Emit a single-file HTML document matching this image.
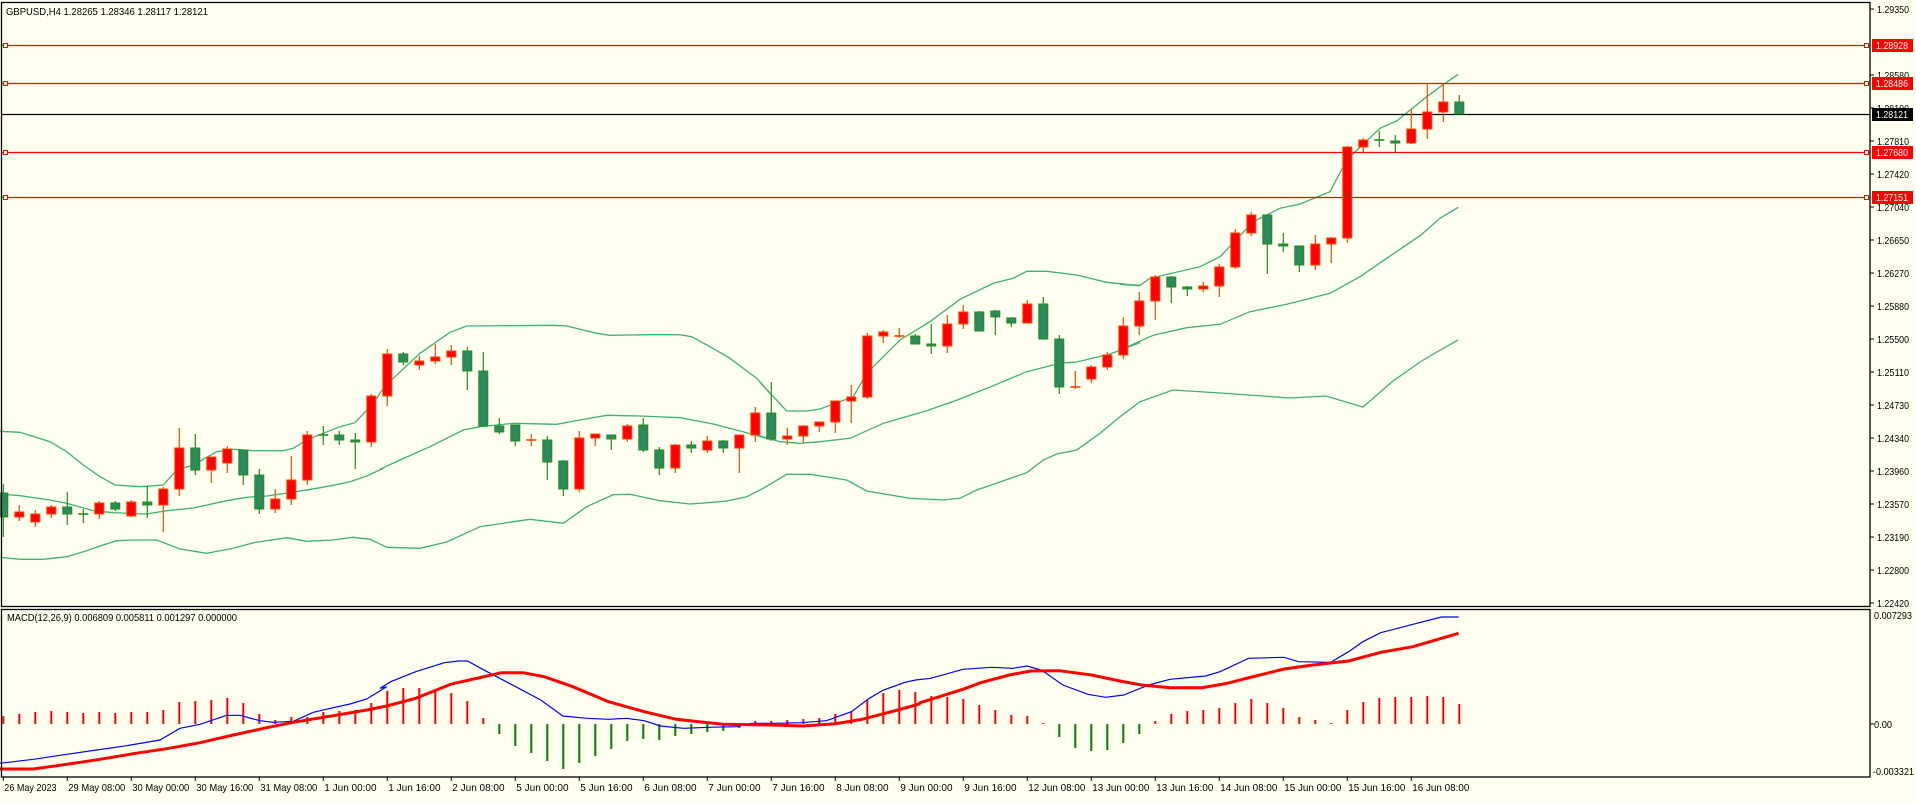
<!DOCTYPE html>
<html><head><meta charset="utf-8"><style>
html,body{margin:0;padding:0;background:#FFFFF0;}
body{width:1916px;height:798px;overflow:hidden;position:relative;}
svg text{font-family:"Liberation Sans",sans-serif;font-size:10.5px;}
</style></head><body>
<svg id="c" width="1916" height="798" xmlns="http://www.w3.org/2000/svg">
<rect width="1916" height="798" fill="#FFFFF0"/>
</svg>
<script>
var s=document.getElementById('c'),out='';
function X(i){return 3.3+16*i;}
var C=[
['g',493,517,484,537],['r',512,517,505,521],['r',514,522,510,527],['r',507,514,505,518],['g',507,514,492,525],['g',514,514,509,523],['r',503,514,501,519],['g',503,509,501,511],['r',502,516,500,517],['g',502,505,486,518],
['r',489,505,487,532],['r',448,489,428,496],['g',448,470,434,475],['r',457,470,457,483],['r',449,463,446,473],['g',450,475,450,485],['g',475,509,469,514],['r',499,509,489,513],['r',480,499,456,505],['r',435,480,431,485],
['g',435,435,426,445],['g',435,440,431,445],['g',440,442,433,469],['r',396,442,394,447],['r',354,396,349,406],['g',354,362,352,365],['r',361,365,356,370],['r',357,361,344,364],['r',351,357,345,365],['g',351,371,347,390],
['g',371,426,352,426],['g',426,432,418,434],['g',425,441,425,446],['r',440,441,434,446],['g',440,462,436,480],['g',461,489,460,496],['r',438,489,431,492],['r',434,438,434,446],['g',435,439,435,450],['r',426,439,424,442],
['g',425,450,418,452],['g',450,468,447,475],['r',445,468,444,473],['g',445,448,441,453],['r',441,450,436,453],['g',441,448,440,453],['r',435,448,435,473],['r',413,435,407,442],['g',413,439,382,441],['r',436,439,428,445],
['r',426,436,425,443],['r',422,426,422,432],['r',401,422,401,433],['r',397,401,385,423],['r',336,397,333,399],['r',332,336,330,343],['r',336,336,328,338],['g',336,344,334,344],['g',344,346,324,354],['r',324,346,315,353],
['r',312,324,305,329],['g',312,331,311,331],['g',311,317,310,335],['g',318,323,317,327],['r',304,323,300,323],['g',304,339,297,339],['g',339,387,335,394],['r',387,387,371,389],['r',367,379,365,383],['r',355,367,352,370],
['r',326,355,317,359],['r',301,326,292,335],['r',277,301,275,320],['g',277,287,276,303],['g',287,289,286,296],['r',286,289,282,292],['r',267,286,264,297],['r',233,267,229,269],['r',215,233,212,236],['g',215,244,215,274],
['g',244,246,233,252],['g',246,265,246,272],['r',244,265,235,270],['r',238,244,237,263],['r',147,238,146,243],['r',140,147,138,153],['g',140,141,131,147],['g',141,143,135,153],['r',129,143,109,144],['r',112,129,83,139],
['r',102,112,84,122],['g',102,114,95,114]];
function pts(a,ox,oy,sx,sy){var r=[];for(var i=0;i<a.length;i+=2)r.push((ox+a[i]/sx).toFixed(1)+','+(oy+a[i+1]/sy).toFixed(1));return r.join(' ');}
var up=pts([0,394,60,397,150,425,200,455,250,495,300,530,345,555,420,560,490,555,530,510,580,495,650,455,700,448,760,452,850,452,880,445,920,420,970,400,1020,380,1065,368,1120,310,1150,265],0,300,3,3)+' '+
pts([40,235,120,160,210,97,260,78,520,76,560,78,650,100,690,106,810,104,900,104,935,110,990,140,1050,175,1130,235,1170,280],380,300,3,3)+' '+
pts([0,547,80,633,140,633,180,627,280,590,320,520,420,420,510,365,600,298,700,250,760,235,800,214,860,214,950,225,1040,247,1140,257],760,200,3,3)+' '+
pts([0,673,60,676,90,655,240,620,300,590,400,485,480,445,540,432,630,395,680,300,780,205,830,183,920,110,975,70,1015,43],1120,60,3,3);
var mid=pts([0,582,60,587,150,600,200,610,280,632,340,638,440,642,500,632,580,624,680,602,740,592,800,588,870,578,950,565,1000,556,1050,545,1100,528,1150,505],0,300,3,3)+' '+
pts([0,508,60,480,150,440,250,390,300,380,400,370,530,373,600,360,680,346,780,348,900,353,1000,372,1100,398,1170,418],380,300,3,3)+' '+
pts([0,708,60,725,120,730,180,725,270,715,370,670,500,632,600,597,700,557,800,515,900,490,950,486,1050,462,1140,428],760,200,3,3)+' '+
pts([0,870,100,826,200,803,300,793,390,755,500,733,630,700,720,650,800,595,900,527,960,475,1015,442],1120,60,3,3);
var lo=pts([0,772,60,778,130,778,200,770,260,752,300,738,350,722,400,720,470,720,540,747,620,760,700,745,760,728,860,713,920,724,1000,720,1060,712,1110,718,1160,742],0,300,3,3)+' '+
pts([20,742,120,745,200,726,300,680,400,665,450,658,550,670,620,620,700,584,750,583,840,602,930,612,1000,607,1040,603,1100,590,1150,565],380,300,3,3)+' '+
pts([80,823,150,823,260,840,320,873,450,895,550,900,600,895,650,870,800,818,850,780,890,762,950,750,1020,700,1080,650,1140,605],760,200,3,3)+' 1173,390 1220,393 1290,398 1326,396 1363,407 1393,381 1420,362 1437,352 1458,340';
out+='<polyline points="'+up+'" fill="none" stroke="#3CB371" stroke-width="1.3"/>';
out+='<polyline points="'+mid+'" fill="none" stroke="#3CB371" stroke-width="1.3"/>';
out+='<polyline points="'+lo+'" fill="none" stroke="#3CB371" stroke-width="1.3"/>';
[[45,'1.28928'],[83,'1.28486'],[152,'1.27680'],[197,'1.27151']].forEach(function(h){
out+='<line x1="2" x2="1870" y1="'+h[0]+'.5" y2="'+h[0]+'.5" stroke="#FF0000" stroke-width="1.2"/>';
out+='<rect x="3.5" y="'+(h[0]-2)+'.5" width="4" height="4" fill="#FFFFF0" stroke="#FF0000"/>';
out+='<rect x="1864.5" y="'+(h[0]-2)+'.5" width="4" height="4" fill="#FFFFF0" stroke="#FF0000"/>';
});
out+='<line x1="2" x2="1870" y1="114.5" y2="114.5" stroke="#000" stroke-width="1.2"/>';
C.forEach(function(c,i){var x=X(i),g=c[0]=='g';
var wc=g?'#228B22':'#FF4500';
out+='<line x1="'+x+'" x2="'+x+'" y1="'+c[3]+'" y2="'+c[4]+'" stroke="'+wc+'" stroke-width="1.2"/>';
var h=Math.max(c[2]-c[1],1);
if(c[2]-c[1]<=1){out+='<line x1="'+(x-5)+'" x2="'+(x+5)+'" y1="'+c[1]+'" y2="'+c[1]+'" stroke="'+wc+'" stroke-width="1.6"/>';}
else out+='<rect x="'+(x-4.5)+'" y="'+c[1]+'" width="9" height="'+h+'" fill="'+(g?'#2E8B57':'#FF0000')+'" stroke="'+wc+'" stroke-width="1"/>';
});
var H=[716,714,712,711,712,713,712,713,712,712,710,702,701,700,698,703,714,720,717,717,712,711,710,703,691,688,688,691,693,701,718,734,746,753,761,769,763,756,749,741,739,740,736,734,732,731,728,721,721,720,719,718,714,711,700,693,690,692,696,697,699,705,710,715,716,723,737,748,751,750,743,734,721,714,711,710,708,703,699,703,708,717,720,723,710,702,698,697,697,696,697,704];
H.forEach(function(v,i){var x=X(i);
if(v<=724)out+='<rect x="'+(x-1)+'" y="'+v+'" width="2" height="'+(724-v)+'" fill="#FF0000"/>';
else out+='<rect x="'+(x-1)+'" y="724" width="2" height="'+(v-724)+'" fill="#008000"/>';});
var bl=pts([0,490,100,478,200,463,290,450,380,437,480,420,540,385,600,373,680,346,720,346,780,362,820,367,880,364,940,337,1000,323,1050,312,1100,297,1160,260],0,600,3,3)+' '+
pts([0,175,30,155,100,125,180,98,220,93,245,93,300,125,380,170,450,210,512,258,580,265,640,268,690,265,740,272,785,288,850,295,920,292,1000,290,1040,280,1100,280,1180,278,1250,272,1320,245,1370,205,1410,180,1470,157,1500,150],380,630,2.8,3)+' '+
pts([30,235,120,208,200,202,260,205,300,198,340,210,400,255,470,283,520,292,570,285,640,255,700,238,800,228,840,215,920,175,1020,172,1060,185,1150,187,1200,155,1240,125,1290,98,1380,73,1460,51,1508,51],920,600,2.8,3);
var rd=pts([0,507,100,507,200,493,300,478,400,461,500,446,600,428,700,405,800,383,880,367,1000,347,1100,330,1160,318],0,600,3,3)+' '+
pts([100,205,200,162,300,138,340,128,400,128,460,140,540,170,640,215,740,245,830,268,900,276,960,283,1095,285,1185,288,1275,281,1350,268,1450,240,1510,222],380,630,2.8,3)+' '+
pts([0,308,120,268,170,248,250,225,310,213,390,212,480,225,560,243,620,255,700,263,790,263,860,250,940,228,1020,207,1100,195,1200,183,1290,157,1380,140,1460,115,1508,100],920,600,2.8,3);
out+='<polyline points="'+bl+'" fill="none" stroke="#0000FF" stroke-width="1.2"/>';
out+='<polyline points="'+rd+'" fill="none" stroke="#FF0000" stroke-width="3"/>';
out+='<rect x="1.5" y="2.5" width="1868.5" height="604" fill="none" stroke="#000" stroke-width="1.3"/>';
out+='<rect x="1.5" y="609.5" width="1868.5" height="167.5" fill="none" stroke="#000" stroke-width="1.3"/>';
function T(x,y,t,w,fill){return '<text x="'+x+'" y="'+y+'" textLength="'+w+'" lengthAdjust="spacingAndGlyphs"'+(fill?' fill="'+fill+'"':'')+'>'+t+'</text>';}
var P=['1.29350','1.28970','1.28580','1.28190','1.27810','1.27420','1.27040','1.26650','1.26270','1.25880','1.25500','1.25110','1.24730','1.24340','1.23960','1.23570','1.23190','1.22800','1.22420'];
for(var k=0;k<19;k++){var y=9+k*33;
if(k==1)continue;
out+='<line x1="1870" x2="1874" y1="'+y+'" y2="'+y+'" stroke="#000"/>';
out+=T(1877,y+4,P[k],32);}
[[45,'1.28928','#FF0000'],[83,'1.28486','#FF0000'],[114,'1.28121','#000'],[152,'1.27680','#FF0000'],[197,'1.27151','#FF0000']].forEach(function(h){
out+='<rect x="1872" y="'+(h[0]-6)+'" width="41" height="13" fill="'+h[2]+'"/>';
out+=T(1876,h[0]+4,h[1],32,'#fff');});
out+=T(1874,619,'0.007293',38)+'<line x1="1870" x2="1874" y1="724" y2="724" stroke="#000"/>'+T(1874,728,'0.00',18)+T(1873,775,'-0.003321',41);
var L=["26 May 2023","29 May 08:00","30 May 00:00","30 May 16:00","31 May 08:00","1 Jun 00:00","1 Jun 16:00","2 Jun 08:00","5 Jun 00:00","5 Jun 16:00","6 Jun 08:00","7 Jun 00:00","7 Jun 16:00","8 Jun 08:00","9 Jun 00:00","9 Jun 16:00","12 Jun 08:00","13 Jun 00:00","13 Jun 16:00","14 Jun 08:00","15 Jun 00:00","15 Jun 16:00","16 Jun 08:00"];
L.forEach(function(t,j){var x=X(j*4);
out+='<line x1="'+x+'" x2="'+x+'" y1="777" y2="781" stroke="#000"/>';
out+=T(x+1,791,t,t.length*4.75);});
out+=T(6,15,'GBPUSD,H4  1.28265 1.28346 1.28117 1.28121',202);
out+=T(7,621,'MACD(12,26,9) 0.006809 0.005811 0.001297 0.000000',230);
s.innerHTML+=out;
</script>
</body></html>
